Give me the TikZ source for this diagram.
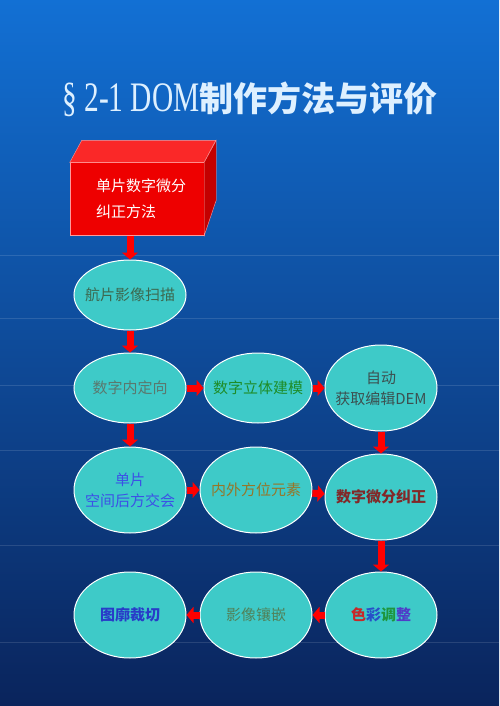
\documentclass[tikz,border=0pt]{standalone}
\usepackage{fontspec}
\setmainfont{Liberation Serif}
\newfontfamily\cjk{Noto Sans CJK SC}
\usetikzlibrary{arrows.meta,positioning,shapes.geometric}

\definecolor{skytop}{RGB}{18,112,212}
\definecolor{skymid}{RGB}{14,78,168}
\definecolor{skybot}{RGB}{10,36,92}
\definecolor{blobfill}{RGB}{62,202,200}
\definecolor{boxred}{RGB}{238,0,0}
\definecolor{boxtop}{RGB}{250,40,40}
\definecolor{boxside}{RGB}{196,0,0}
\definecolor{titlecol}{RGB}{222,240,255}

\begin{document}
\begin{tikzpicture}[x=1pt,y=-1pt,node distance=100pt,on grid,
  blob/.style={ellipse, draw=white, line width=1pt, fill=blobfill,
    minimum width=112pt, minimum height=70pt, inner xsep=-12pt, inner ysep=0pt, align=center,
    font=\cjk\fontsize{15}{21}\selectfont},
  tall/.style={minimum height=86pt},
  bold/.style={font=\cjk\bfseries\fontsize{15}{21}\selectfont},
  flow/.style={red, line width=7pt, -{Triangle[width=16pt,length=7pt]}}]

    % background
    \useasboundingbox (0,0) rectangle (499,706);
    \shade[top color=skytop, middle color=skymid, bottom color=skybot] (0,0) rectangle (499,706);
    \foreach \y in {255,318,385,450,545,642}
        \draw[white, opacity=0.12, line width=0.8pt] (0,\y) -- (499,\y);

    % title
    \node[titlecol] (title) at (250,99)
        {\scalebox{0.7}[1]{\fontsize{42}{42}\selectfont\S\ 2-1 DOM}{\cjk\bfseries\fontsize{34}{34}\selectfont 制作方法与评价}};

    % red box
    \node[fill=boxred, draw=red!40, minimum width=134pt, minimum height=73pt,
          align=left, text=white, font=\cjk\fontsize{15}{26}\selectfont] (box) at (137,199)
          {\hspace{8pt}单片数字微分\\\hspace{8pt}纠正方法};
    \filldraw[fill=boxtop, draw=red!40] (box.north west) -- ++(12,-22) -- ++(134,0) -- (box.north east) -- cycle;
    \filldraw[fill=boxside, draw=red!40] (box.north east) -- ++(12,-22) -- ++(0,60) -- (box.south east) -- cycle;

    % steps
    \node[blob, text={rgb,255:red,60;green,105;blue,80}] (scan) [below left=96pt and 7pt of box] {航片影像扫描};
    \node[blob, text={rgb,255:red,90;green,120;blue,110}] (inner) [below=93pt of scan] {数字内定向};
    \node[blob, text={rgb,255:red,30;green,140;blue,40}, minimum width=108pt] (stereo) [right=128pt of inner] {数字立体建模};
    \node[blob, tall, text={rgb,255:red,60;green,80;blue,80}] (dem) [right=123pt of stereo] {自动\\获取编辑DEM};
    \node[blob, tall, text={rgb,255:red,60;green,80;blue,230}] (resect) [below=102pt of inner] {单片\\空间后方交会};
    \node[blob, tall, text={rgb,255:red,150;green,118;blue,40}] (orient) [right=126pt of resect] {内外方位元素};
    \node[blob, tall, bold, text={rgb,255:red,130;green,40;blue,40}] (rectify) [below right=7pt and 125pt of orient] {数字微分纠正};
    \node[blob, tall, bold, text={rgb,255:red,40;green,60;blue,200}] (clip) [below=125pt of resect] {图廓裁切};
    \node[blob, tall, text={rgb,255:red,80;green,130;blue,90}] (mosaic) [right=126pt of clip] {影像镶嵌};
    \node[blob, tall, bold] (tone) [right=125pt of mosaic]
        {\color[RGB]{200,40,40}色\color[RGB]{40,80,200}彩\color[RGB]{30,150,60}调\color[RGB]{80,60,200}整};

    \path[flow]
    (box.south -| scan) edge (scan)
    (scan) edge (inner)
    (inner) edge (stereo)
            edge (resect)
    (stereo) edge (dem)
    (dem) edge (rectify)
    (resect) edge (orient)
    (orient) edge (rectify)
    (rectify) edge (tone)
    (tone) edge (mosaic)
    (mosaic) edge (clip)
    ;
\end{tikzpicture}
\end{document}
